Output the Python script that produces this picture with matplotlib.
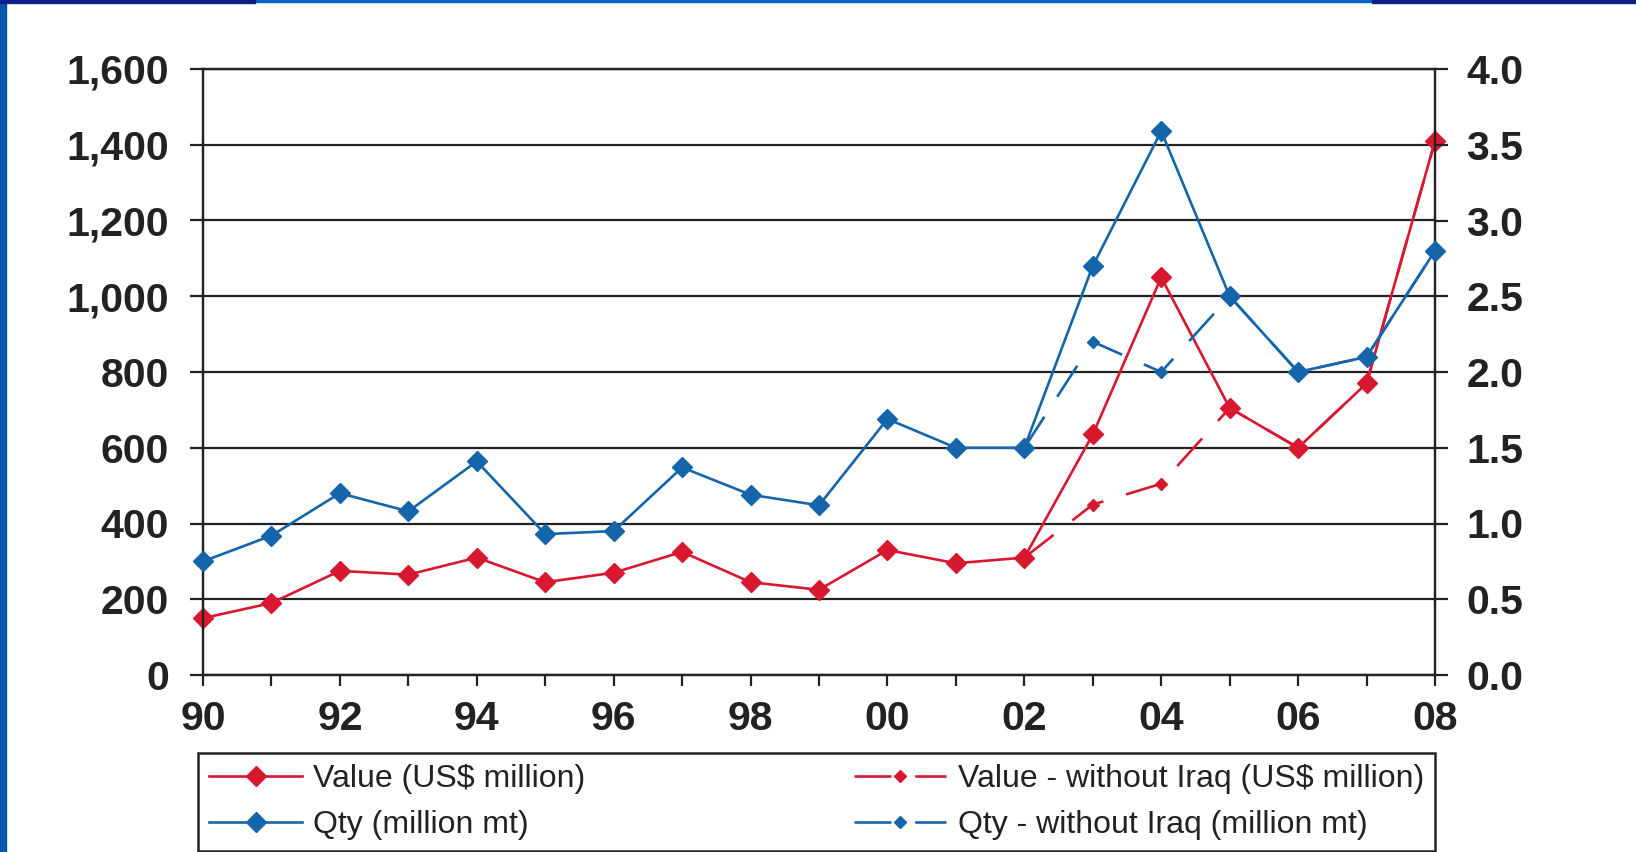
import matplotlib.pyplot as plt
from matplotlib.patches import Rectangle
from matplotlib.ticker import FixedLocator

years = list(range(1990, 2009))
year_labels = ['90', '92', '94', '96', '98', '00', '02', '04', '06', '08']

value = [150, 190, 275, 265, 310, 245, 270, 325, 245, 225, 330, 295, 310,
         635, 1050, 705, 600, 770, 1410]
qty = [0.75, 0.92, 1.20, 1.08, 1.41, 0.93, 0.95, 1.37, 1.19, 1.12, 1.69,
       1.50, 1.50, 2.70, 3.59, 2.50, 2.00, 2.10, 2.80]

# "without Iraq" series only differ from 2002 on
years_wo = list(range(2002, 2009))
value_wo = [310, 450, 505, 705, 600, 770, 1410]
qty_wo = [1.50, 2.20, 2.00, 2.50, 2.00, 2.10, 2.80]

left_ticks = [0, 200, 400, 600, 800, 1000, 1200, 1400, 1600]
right_ticks = [0.0, 0.5, 1.0, 1.5, 2.0, 2.5, 3.0, 3.5, 4.0]

red = '#d81830'
blue = '#1565ab'
dark = '#222222'

plt.rcParams['font.family'] = ['Liberation Sans', 'DejaVu Sans']

fig = plt.figure(figsize=(16.36, 8.52), dpi=100)
W, H = 1636, 852
ax = fig.add_axes([203 / W, 1 - 675 / H, (1435 - 203) / W, (675 - 69) / H])
ax2 = ax.twinx()

# slide border bits
fig.patches.append(Rectangle((0, 0), 6 / W, 1, transform=fig.transFigure,
                             color='#0755a8', zorder=0))
fig.patches.append(Rectangle((0, 1 - 2 / H), 1, 2 / H, transform=fig.transFigure,
                             color='#0a62c4', zorder=0))
fig.patches.append(Rectangle((0, 1 - 3 / H), 255 / W, 3 / H, transform=fig.transFigure,
                             color='#0a1f8a', zorder=0))
fig.patches.append(Rectangle((1372 / W, 1 - 3 / H), (W - 1372) / W, 3 / H,
                             transform=fig.transFigure, color='#0a1f8a', zorder=0))

l1, = ax.plot(years, value, color=red, lw=1.9, marker='D', ms=10.5,
              clip_on=False, zorder=3, label='Value (US$ million)')
l3, = ax.plot(years_wo, value_wo, color=red, lw=1.9, marker='D', ms=6.5,
              dashes=(14, 9), clip_on=False, zorder=3,
              label='Value - without Iraq (US$ million)')
l2, = ax2.plot(years, qty, color=blue, lw=1.9, marker='D', ms=10.5,
               clip_on=False, zorder=3, label='Qty (million mt)')
l4, = ax2.plot(years_wo, qty_wo, color=blue, lw=1.9, marker='D', ms=6.5,
               dashes=(14, 9), clip_on=False, zorder=3,
               label='Qty - without Iraq (million mt)')

ax.set_xlim(1990, 2008)
ax.set_ylim(0, 1600)
ax2.set_ylim(0, 4.0)

ax.xaxis.set_major_locator(FixedLocator(years[::2]))
ax.xaxis.set_minor_locator(FixedLocator(years[1::2]))
ax.set_xticklabels(year_labels)

ax.set_yticks(left_ticks)
ax.set_yticklabels([f'{v:,}' for v in left_ticks])
ax2.set_yticks(right_ticks)
ax2.set_yticklabels([f'{v:.1f}' for v in right_ticks])

ax.grid(axis='y', color=dark, lw=1.6)
ax.set_axisbelow(True)

for a in (ax, ax2):
    for s in a.spines.values():
        s.set_color(dark)
        s.set_linewidth(1.6)

ax.tick_params(axis='y', length=9.5, width=1.6, color=dark, pad=15,
               labelsize=29.5, labelcolor=dark)
ax2.tick_params(axis='y', length=9.5, width=1.6, color=dark, pad=13,
                labelsize=29.5, labelcolor=dark)
ax.tick_params(axis='x', which='both', length=8, width=1.6, color=dark, pad=10,
               labelsize=29.5, labelcolor=dark)
for lab in ax.get_xticklabels() + ax.get_yticklabels() + ax2.get_yticklabels():
    lab.set_fontweight('bold')

leg = fig.legend(handles=[l1, l2, l3, l4], ncol=2, mode='expand',
                 loc='upper left',
                 bbox_to_anchor=(198 / W, 1 - 849 / H, (1435 - 198) / W, (849 - 753) / H),
                 bbox_transform=fig.transFigure, borderaxespad=0,
                 fontsize=23, handlelength=2.9, handletextpad=0.35,
                 labelspacing=0.5, borderpad=0.35, fancybox=False,
                 edgecolor=dark, framealpha=1)
leg.get_frame().set_linewidth(1.8)
for t in leg.get_texts():
    t.set_color(dark)

fig.savefig('out.png', dpi=100)
